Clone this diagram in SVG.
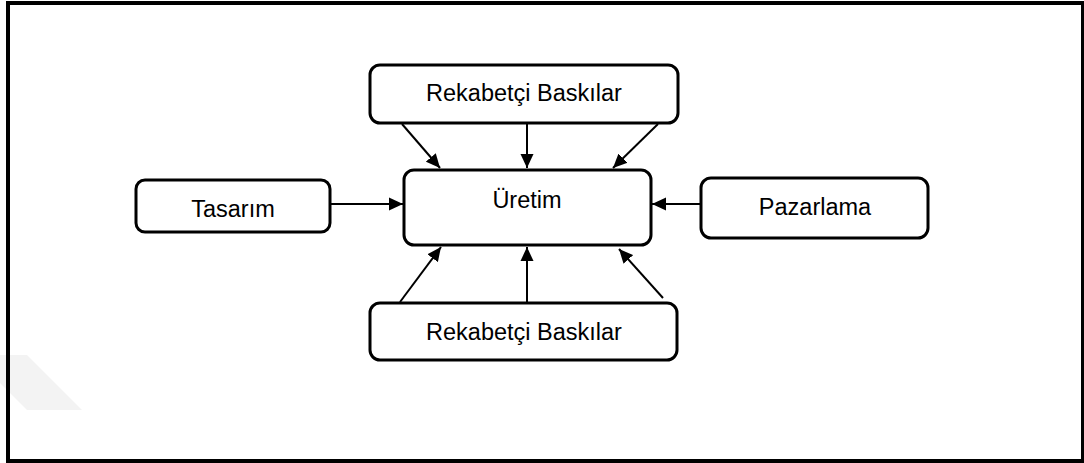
<svg xmlns="http://www.w3.org/2000/svg" width="1084" height="463" viewBox="0 0 1084 463">
  <defs>
    <style>
      .box { fill: #ffffff; stroke: #000000; stroke-width: 3; }
      .label { font-family: "Liberation Sans", Arial, sans-serif; font-size: 23.5px; fill: #000000; text-anchor: middle; }
      .link { stroke: #000000; stroke-width: 2; fill: none; marker-end: url(#head); }
    </style>
    <marker id="head" viewBox="0 0 14 14" refX="14" refY="7" markerWidth="14" markerHeight="14" markerUnits="userSpaceOnUse" orient="auto">
      <path d="M0,0.5 L14,7 L0,13.5 Z" fill="#000000"/>
    </marker>
  </defs>

  <rect width="1084" height="463" fill="#ffffff"/>

  <!-- faint background mark, lower left -->
  <polygon points="0,355 27,355 82,410 27,410 0,383" fill="#f3f3f3"/>

  <!-- outer frame -->
  <rect x="8" y="3" width="1075" height="458" fill="none" stroke="#000000" stroke-width="4"/>

  <g id="connectors">
    <!-- top pressures into production -->
    <line class="link" x1="402" y1="124" x2="440" y2="168"/>
    <line class="link" x1="527" y1="124" x2="527" y2="168"/>
    <line class="link" x1="658" y1="124" x2="613" y2="168"/>
    <!-- side inputs -->
    <line class="link" x1="331" y1="204" x2="403" y2="204"/>
    <line class="link" x1="700" y1="204" x2="652" y2="204"/>
    <!-- bottom pressures into production -->
    <line class="link" x1="400" y1="302" x2="441" y2="247"/>
    <line class="link" x1="527" y1="302" x2="527" y2="247"/>
    <line class="link" x1="663" y1="298" x2="619" y2="249"/>
  </g>

  <g id="rekabet-top">
    <rect class="box" x="370" y="65" width="308" height="58" rx="10"/>
    <text class="label" x="524" y="101">Rekabetçi Baskılar</text>
  </g>

  <g id="tasarim">
    <rect class="box" x="136" y="180" width="194" height="52" rx="9"/>
    <text class="label" x="233" y="217">Tasarım</text>
  </g>

  <g id="uretim">
    <rect class="box" x="404" y="170" width="247" height="75" rx="10"/>
    <text class="label" x="527" y="208">Üretim</text>
  </g>

  <g id="pazarlama">
    <rect class="box" x="701" y="178" width="227" height="60" rx="10"/>
    <text class="label" x="815" y="215">Pazarlama</text>
  </g>

  <g id="rekabet-bottom">
    <rect class="box" x="370" y="303" width="307" height="57" rx="10"/>
    <text class="label" x="524" y="340">Rekabetçi Baskılar</text>
  </g>
</svg>
